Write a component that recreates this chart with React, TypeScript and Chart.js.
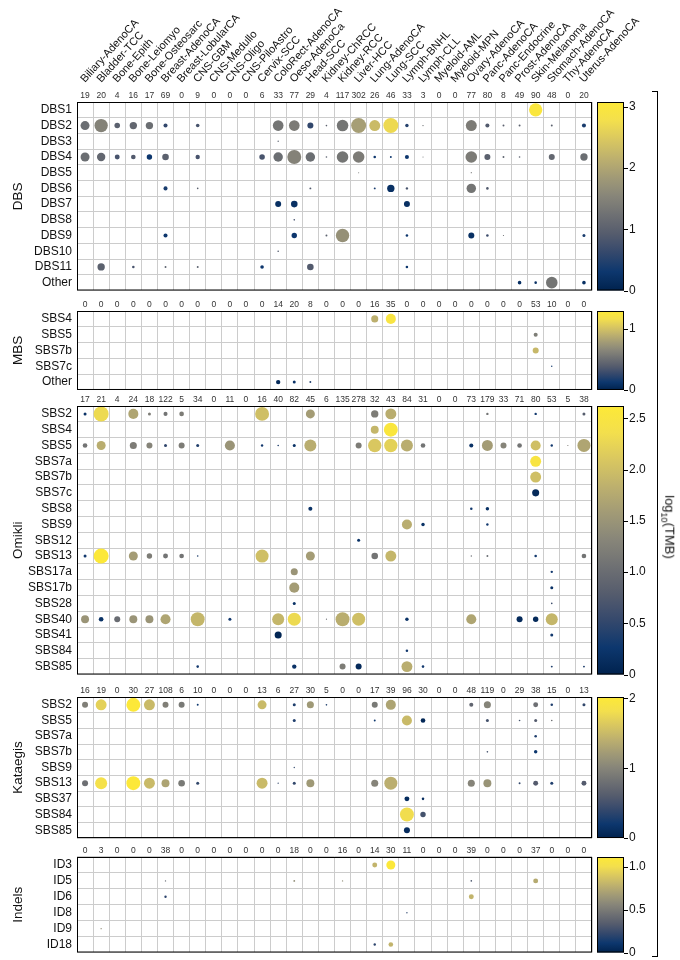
import React, { useEffect, useRef } from "react";
import { Chart, registerables } from "chart.js";
Chart.register(...registerables);
Chart.defaults.font.family = "'Liberation Sans', Arial, Helvetica, sans-serif";

// ---------------- DATA ----------------
const cancerTypes = [
  "Biliary-AdenoCA", "Bladder-TCC", "Bone-Epith", "Bone-Leiomyo", "Bone-Osteosarc",
  "Breast-AdenoCA", "Breast-LobularCA", "CNS-GBM", "CNS-Medullo", "CNS-Oligo",
  "CNS-PiloAstro", "Cervix-SCC", "ColoRect-AdenoCA", "Oeso-AdenoCa", "Head-SCC",
  "Kidney-ChRCC", "Kidney-RCC", "Liver-HCC", "Lung-AdenoCA", "Lung-SCC",
  "Lymph-BNHL", "Lymph-CLL", "Myeloid-AML", "Myeloid-MPN", "Ovary-AdenoCA",
  "Panc-AdenoCA", "Panc-Endocrine", "Prost-AdenoCA", "Skin-Melanoma", "Stomach-AdenoCA",
  "Thy-AdenoCA", "Uterus-AdenoCA",
];

// cell tuples: [signature, cancer type index, fraction of samples, log10(TMB)]
const dbsSignatures = ["DBS1", "DBS2", "DBS3", "DBS4", "DBS5", "DBS6", "DBS7", "DBS8", "DBS9", "DBS10", "DBS11", "Other"];
const dbsCounts = [19, 20, 4, 16, 17, 69, 0, 9, 0, 0, 0, 6, 33, 77, 29, 4, 117, 302, 26, 46, 33, 3, 0, 0, 77, 80, 8, 49, 90, 48, 0, 20];
const dbsCells = [
  ["DBS1", 28, 0.89, 3.0],
  ["DBS2", 0, 0.6, 1.2], ["DBS2", 1, 0.89, 1.5], ["DBS2", 2, 0.37, 1.0], ["DBS2", 3, 0.49, 1.1], ["DBS2", 4, 0.49, 1.2],
  ["DBS2", 5, 0.27, 0.6], ["DBS2", 7, 0.24, 0.8], ["DBS2", 12, 0.71, 1.3], ["DBS2", 13, 0.71, 1.4], ["DBS2", 14, 0.4, 0.6],
  ["DBS2", 15, 0.11, 1.0], ["DBS2", 16, 0.77, 1.3], ["DBS2", 17, 1.0, 1.9], ["DBS2", 18, 0.73, 2.3], ["DBS2", 19, 1.0, 2.7],
  ["DBS2", 20, 0.23, 0.5], ["DBS2", 21, 0.09, 1.2], ["DBS2", 24, 0.73, 1.4], ["DBS2", 25, 0.27, 0.9], ["DBS2", 26, 0.13, 1.0],
  ["DBS2", 27, 0.13, 1.0], ["DBS2", 29, 0.13, 1.0], ["DBS2", 31, 0.27, 0.4],
  ["DBS3", 12, 0.09, 1.0],
  ["DBS4", 0, 0.6, 1.2], ["DBS4", 1, 0.56, 1.1], ["DBS4", 2, 0.33, 0.8], ["DBS4", 3, 0.31, 0.9], ["DBS4", 4, 0.36, 0.3],
  ["DBS4", 5, 0.44, 1.0], ["DBS4", 7, 0.29, 0.8], ["DBS4", 11, 0.37, 0.8], ["DBS4", 12, 0.63, 1.2], ["DBS4", 13, 0.93, 1.5],
  ["DBS4", 14, 0.63, 1.2], ["DBS4", 15, 0.11, 1.0], ["DBS4", 16, 0.77, 1.3], ["DBS4", 17, 0.77, 1.4], ["DBS4", 18, 0.17, 0.3],
  ["DBS4", 19, 0.13, 0.3], ["DBS4", 20, 0.27, 0.3], ["DBS4", 21, 0.07, 1.2], ["DBS4", 24, 0.77, 1.4], ["DBS4", 25, 0.4, 1.0],
  ["DBS4", 26, 0.13, 1.0], ["DBS4", 27, 0.11, 1.0], ["DBS4", 29, 0.4, 1.1], ["DBS4", 31, 0.49, 1.2],
  ["DBS5", 17, 0.07, 1.3], ["DBS5", 24, 0.08, 1.3],
  ["DBS6", 5, 0.27, 0.4], ["DBS6", 7, 0.11, 1.0], ["DBS6", 14, 0.13, 0.9], ["DBS6", 18, 0.13, 0.4], ["DBS6", 19, 0.49, 0.2],
  ["DBS6", 20, 0.16, 0.8], ["DBS6", 24, 0.63, 1.3], ["DBS6", 25, 0.17, 0.9],
  ["DBS7", 12, 0.4, 0.2], ["DBS7", 13, 0.44, 0.2], ["DBS7", 20, 0.4, 0.2],
  ["DBS8", 13, 0.11, 0.8],
  ["DBS9", 5, 0.27, 0.3], ["DBS9", 13, 0.36, 0.3], ["DBS9", 15, 0.13, 1.0], ["DBS9", 16, 0.89, 1.7], ["DBS9", 20, 0.17, 0.3],
  ["DBS9", 24, 0.4, 0.2], ["DBS9", 25, 0.17, 0.7], ["DBS9", 26, 0.08, 1.2], ["DBS9", 31, 0.2, 0.4],
  ["DBS10", 12, 0.11, 0.9],
  ["DBS11", 1, 0.49, 1.0], ["DBS11", 3, 0.17, 0.8], ["DBS11", 5, 0.13, 1.0], ["DBS11", 7, 0.13, 1.0], ["DBS11", 11, 0.24, 0.3],
  ["DBS11", 14, 0.44, 0.9], ["DBS11", 20, 0.17, 0.3],
  ["Other", 27, 0.24, 0.2], ["Other", 28, 0.17, 0.2], ["Other", 29, 0.77, 1.3], ["Other", 31, 0.24, 0.2],
];
const dbsTickValues = [0, 1, 2, 3];
const dbsTickLabels = ["0", "1", "2", "3"];
const dbsMax = 3.08;

const mbsSignatures = ["SBS4", "SBS5", "SBS7b", "SBS7c", "Other"];
const mbsCounts = [0, 0, 0, 0, 0, 0, 0, 0, 0, 0, 0, 0, 14, 20, 8, 0, 0, 0, 16, 35, 0, 0, 0, 0, 0, 0, 0, 0, 53, 10, 0, 0];
const mbsCells = [
  ["SBS4", 18, 0.47, 0.9], ["SBS4", 19, 0.67, 1.22],
  ["SBS5", 28, 0.27, 0.6],
  ["SBS7b", 28, 0.4, 0.95],
  ["SBS7c", 29, 0.09, 0.1],
  ["Other", 12, 0.29, 0.05], ["Other", 13, 0.2, 0.1], ["Other", 14, 0.13, 0.2],
];
const mbsTickValues = [0, 1];
const mbsTickLabels = ["0", "1"];
const mbsMax = 1.29;

const omikliSignatures = ["SBS2", "SBS4", "SBS5", "SBS7a", "SBS7b", "SBS7c", "SBS8", "SBS9", "SBS12", "SBS13", "SBS17a", "SBS17b", "SBS28", "SBS40", "SBS41", "SBS84", "SBS85"];
const omikliCounts = [17, 21, 4, 24, 18, 122, 5, 34, 0, 11, 0, 16, 40, 82, 45, 6, 135, 278, 32, 43, 84, 31, 0, 0, 73, 179, 33, 71, 80, 53, 5, 38];
const omikliCells = [
  ["SBS2", 0, 0.2, 0.2], ["SBS2", 1, 1.0, 2.3], ["SBS2", 3, 0.67, 1.7], ["SBS2", 4, 0.2, 1.2], ["SBS2", 5, 0.27, 1.1],
  ["SBS2", 6, 0.31, 1.2], ["SBS2", 11, 0.93, 2.0], ["SBS2", 14, 0.6, 1.6], ["SBS2", 18, 0.49, 1.2], ["SBS2", 19, 0.73, 1.8],
  ["SBS2", 25, 0.16, 1.1], ["SBS2", 28, 0.16, 0.3], ["SBS2", 31, 0.2, 0.8],
  ["SBS4", 18, 0.53, 1.9], ["SBS4", 19, 0.93, 2.55],
  ["SBS5", 0, 0.31, 1.1], ["SBS5", 1, 0.6, 1.8], ["SBS5", 3, 0.47, 1.2], ["SBS5", 4, 0.4, 1.3], ["SBS5", 5, 0.2, 0.5],
  ["SBS5", 6, 0.4, 1.2], ["SBS5", 7, 0.2, 0.4], ["SBS5", 9, 0.67, 1.5], ["SBS5", 11, 0.16, 0.3], ["SBS5", 12, 0.11, 0.4],
  ["SBS5", 13, 0.2, 0.2], ["SBS5", 14, 0.8, 1.8], ["SBS5", 17, 0.4, 1.2], ["SBS5", 18, 0.89, 2.1], ["SBS5", 19, 0.89, 2.2],
  ["SBS5", 20, 0.8, 1.8], ["SBS5", 21, 0.31, 1.1], ["SBS5", 24, 0.27, 0.2], ["SBS5", 25, 0.73, 1.6], ["SBS5", 26, 0.4, 1.3],
  ["SBS5", 27, 0.31, 1.1], ["SBS5", 28, 0.67, 2.0], ["SBS5", 29, 0.16, 0.3], ["SBS5", 30, 0.08, 1.2], ["SBS5", 31, 0.87, 1.7],
  ["SBS7a", 28, 0.73, 2.5],
  ["SBS7b", 28, 0.73, 2.0],
  ["SBS7c", 28, 0.47, 0.1],
  ["SBS8", 14, 0.27, 0.2], ["SBS8", 24, 0.17, 0.3], ["SBS8", 25, 0.23, 0.2],
  ["SBS9", 20, 0.67, 1.8], ["SBS9", 21, 0.23, 0.2], ["SBS9", 25, 0.16, 0.3],
  ["SBS12", 17, 0.2, 0.2],
  ["SBS13", 0, 0.2, 0.3], ["SBS13", 1, 1.0, 2.6], ["SBS13", 3, 0.6, 1.6], ["SBS13", 4, 0.36, 1.2], ["SBS13", 5, 0.33, 1.1],
  ["SBS13", 6, 0.31, 1.1], ["SBS13", 7, 0.11, 0.4], ["SBS13", 11, 0.87, 2.0], ["SBS13", 14, 0.6, 1.6], ["SBS13", 18, 0.44, 1.1],
  ["SBS13", 19, 0.73, 1.9], ["SBS13", 24, 0.09, 1.0], ["SBS13", 25, 0.13, 1.0], ["SBS13", 28, 0.17, 0.3], ["SBS13", 31, 0.31, 1.1],
  ["SBS17a", 13, 0.47, 1.5], ["SBS17a", 29, 0.16, 0.3],
  ["SBS17b", 13, 0.67, 1.6], ["SBS17b", 29, 0.2, 0.2],
  ["SBS28", 13, 0.2, 0.2], ["SBS28", 29, 0.11, 0.6],
  ["SBS40", 0, 0.53, 1.5], ["SBS40", 1, 0.31, 0.2], ["SBS40", 2, 0.4, 1.0], ["SBS40", 3, 0.53, 1.5], ["SBS40", 4, 0.53, 1.5],
  ["SBS40", 5, 0.67, 1.7], ["SBS40", 7, 0.93, 1.9], ["SBS40", 9, 0.2, 0.3], ["SBS40", 12, 0.8, 1.9], ["SBS40", 13, 0.87, 2.3],
  ["SBS40", 15, 0.08, 1.0], ["SBS40", 16, 0.93, 1.8], ["SBS40", 17, 0.87, 2.0], ["SBS40", 20, 0.23, 0.2], ["SBS40", 24, 0.67, 1.7],
  ["SBS40", 27, 0.4, 0.1], ["SBS40", 28, 0.36, 0.1], ["SBS40", 29, 0.8, 1.9],
  ["SBS41", 12, 0.47, 0.05], ["SBS41", 29, 0.2, 0.3],
  ["SBS84", 20, 0.17, 0.3],
  ["SBS85", 7, 0.17, 0.3], ["SBS85", 13, 0.29, 0.2], ["SBS85", 16, 0.4, 1.2], ["SBS85", 17, 0.4, 0.1], ["SBS85", 20, 0.73, 1.8],
  ["SBS85", 21, 0.17, 0.3], ["SBS85", 29, 0.13, 0.4], ["SBS85", 31, 0.13, 0.4],
];
const omikliTickValues = [0, 0.5, 1, 1.5, 2, 2.5];
const omikliTickLabels = ["0", "0.5", "1.0", "1.5", "2.0", "2.5"];
const omikliMax = 2.62;

const kataegisSignatures = ["SBS2", "SBS5", "SBS7a", "SBS7b", "SBS9", "SBS13", "SBS37", "SBS84", "SBS85"];
const kataegisCounts = [16, 19, 0, 30, 27, 108, 6, 10, 0, 0, 0, 13, 6, 27, 30, 5, 0, 0, 17, 39, 96, 30, 0, 0, 48, 119, 0, 29, 38, 15, 0, 13];
const kataegisCells = [
  ["SBS2", 0, 0.4, 0.95], ["SBS2", 1, 0.73, 1.7], ["SBS2", 3, 0.93, 2.0], ["SBS2", 4, 0.73, 1.5], ["SBS2", 5, 0.4, 0.95],
  ["SBS2", 6, 0.4, 0.9], ["SBS2", 7, 0.13, 0.2], ["SBS2", 11, 0.6, 1.5], ["SBS2", 13, 0.2, 0.3], ["SBS2", 14, 0.47, 1.2],
  ["SBS2", 15, 0.11, 0.3], ["SBS2", 18, 0.4, 0.9], ["SBS2", 19, 0.67, 1.3], ["SBS2", 24, 0.27, 0.7], ["SBS2", 25, 0.47, 1.0],
  ["SBS2", 28, 0.33, 0.8], ["SBS2", 29, 0.17, 0.3], ["SBS2", 31, 0.2, 0.4],
  ["SBS5", 13, 0.2, 0.3], ["SBS5", 18, 0.13, 0.2], ["SBS5", 20, 0.67, 1.5], ["SBS5", 21, 0.31, 0.05], ["SBS5", 25, 0.2, 0.5],
  ["SBS5", 27, 0.11, 0.5], ["SBS5", 28, 0.2, 0.6], ["SBS5", 29, 0.11, 0.8],
  ["SBS7a", 28, 0.17, 0.3],
  ["SBS7b", 25, 0.11, 0.5], ["SBS7b", 28, 0.23, 0.2],
  ["SBS9", 13, 0.09, 0.4],
  ["SBS13", 0, 0.4, 0.8], ["SBS13", 1, 0.8, 1.85], ["SBS13", 3, 0.93, 2.0], ["SBS13", 4, 0.73, 1.5], ["SBS13", 5, 0.53, 1.3],
  ["SBS13", 6, 0.44, 0.9], ["SBS13", 7, 0.2, 0.4], ["SBS13", 11, 0.73, 1.5], ["SBS13", 12, 0.09, 0.4], ["SBS13", 13, 0.2, 0.4],
  ["SBS13", 14, 0.53, 1.2], ["SBS13", 18, 0.47, 1.0], ["SBS13", 19, 0.87, 1.4], ["SBS13", 24, 0.47, 1.0], ["SBS13", 25, 0.53, 1.15],
  ["SBS13", 27, 0.13, 0.4], ["SBS13", 28, 0.33, 0.6], ["SBS13", 29, 0.2, 0.3], ["SBS13", 31, 0.33, 0.6],
  ["SBS37", 20, 0.33, 0.1], ["SBS37", 21, 0.17, 0.1],
  ["SBS84", 20, 0.93, 1.8], ["SBS84", 21, 0.36, 0.5],
  ["SBS85", 20, 0.4, 0.1],
];
const kataegisTickValues = [0, 1, 2];
const kataegisTickLabels = ["0", "1", "2"];
const kataegisMax = 2.02;

const indelSignatures = ["ID3", "ID5", "ID6", "ID8", "ID9", "ID18"];
const indelCounts = [0, 3, 0, 0, 0, 38, 0, 0, 0, 0, 0, 0, 0, 18, 0, 0, 16, 0, 14, 30, 11, 0, 0, 0, 39, 0, 0, 0, 37, 0, 0, 0];
const indelCells = [
  ["ID3", 18, 0.33, 0.8], ["ID3", 19, 0.6, 1.1],
  ["ID5", 5, 0.09, 0.4], ["ID5", 13, 0.12, 0.6], ["ID5", 16, 0.09, 0.6], ["ID5", 24, 0.11, 0.3], ["ID5", 28, 0.33, 0.75],
  ["ID6", 5, 0.16, 0.2], ["ID6", 24, 0.33, 0.8],
  ["ID8", 20, 0.09, 0.2],
  ["ID9", 1, 0.09, 0.6],
  ["ID18", 18, 0.16, 0.2], ["ID18", 19, 0.31, 0.8],
];
const indelTickValues = [0, 0.5, 1];
const indelTickLabels = ["0", "0.5", "1.0"];
const indelMax = 1.115;

// ---------------- STYLE / LAYOUT ----------------
const FONT = "'Liberation Sans', Arial, Helvetica, sans-serif";
const W = 680;
const PLOT_LEFT = 77;
const PLOT_RIGHT = 592;
const ROW_H = 16;
const MAX_R = 7.5;
const GRID = "#cccccc";
const NAME_ANGLE = 48;

const CIVIDIS = [
  [0, 34, 78], [13, 55, 110], [52, 72, 108], [85, 92, 109], [110, 112, 115], [135, 133, 121],
  [161, 154, 118], [189, 176, 110], [217, 199, 96], [243, 223, 77], [253, 233, 55],
];
function cividis(t: number) {
  const c = Math.max(0, Math.min(1, t)) * 10;
  const i = Math.min(9, Math.floor(c));
  const f = c - i;
  const a = CIVIDIS[i], b = CIVIDIS[i + 1];
  const m = (k: number) => Math.round(a[k] + (b[k] - a[k]) * f);
  return `rgb(${m(0)},${m(1)},${m(2)})`;
}

const panels = [
  { title: "DBS", rows: dbsSignatures, counts: dbsCounts, cells: dbsCells, vmax: dbsMax, ticks: dbsTickValues, tickLabels: dbsTickLabels, plotTop: 102, names: true },
  { title: "MBS", rows: mbsSignatures, counts: mbsCounts, cells: mbsCells, vmax: mbsMax, ticks: mbsTickValues, tickLabels: mbsTickLabels, plotTop: 311, names: false },
  { title: "Omikli", rows: omikliSignatures, counts: omikliCounts, cells: omikliCells, vmax: omikliMax, ticks: omikliTickValues, tickLabels: omikliTickLabels, plotTop: 406, names: false },
  { title: "Kataegis", rows: kataegisSignatures, counts: kataegisCounts, cells: kataegisCells, vmax: kataegisMax, ticks: kataegisTickValues, tickLabels: kataegisTickLabels, plotTop: 697, names: false },
  { title: "Indels", rows: indelSignatures, counts: indelCounts, cells: indelCells, vmax: indelMax, ticks: indelTickValues, tickLabels: indelTickLabels, plotTop: 857, names: false },
];

const COUNT_H = 14;

function noPad(s: any) {
  s.paddingTop = 0;
  s.paddingBottom = 0;
  s.paddingLeft = 0;
  s.paddingRight = 0;
}

const framePlugin = {
  id: "frame",
  afterDraw(chart: any) {
    const { ctx, chartArea } = chart;
    const cb = chart.scales.cb;
    const opts = chart.options.plugins.frame;
    ctx.save();
    ctx.strokeStyle = "#000";
    ctx.lineWidth = 1;
    ctx.strokeRect(chartArea.left + 0.5, chartArea.top + 0.5, chartArea.right - chartArea.left - 1, chartArea.bottom - chartArea.top - 1);
    // colorbar
    const x0 = chartArea.right + 5;
    const w = 27;
    const yb = cb.getPixelForValue(0);
    const yt = cb.getPixelForValue(opts.vmax);
    const g = ctx.createLinearGradient(0, yb, 0, yt);
    for (let i = 0; i <= 20; i++) g.addColorStop(i / 20, cividis(i / 20));
    ctx.fillStyle = g;
    ctx.fillRect(x0, yt, w, yb - yt);
    ctx.strokeRect(x0 + 0.5, yt + 0.5, w - 1, yb - yt - 1);
    cb.ticks.forEach((t: any) => {
      const y = Math.round(cb.getPixelForValue(t.value)) + 0.5;
      ctx.beginPath();
      ctx.moveTo(x0 + w, y);
      ctx.lineTo(x0 + w + 4, y);
      ctx.stroke();
    });
    // rotated cancer-type names, placed on the names axis ticks
    const names = chart.scales.names;
    if (names) {
      ctx.fillStyle = "#111";
      ctx.font = `11px ${FONT}`;
      ctx.textAlign = "left";
      ctx.textBaseline = "alphabetic";
      names.ticks.forEach((_t: any, i: number) => {
        const x = names.getPixelForTick(i);
        ctx.save();
        ctx.translate(x, names.bottom - 5);
        ctx.rotate((-NAME_ANGLE * Math.PI) / 180);
        ctx.fillText(names.getLabelForValue(i), 0, 0);
        ctx.restore();
      });
    }
    ctx.restore();
  },
};

function Panel({ p }: { p: any }) {
  const ref = useRef<HTMLCanvasElement>(null);
  const headerH = p.names ? p.plotTop : COUNT_H;
  const canvasTop = p.plotTop - headerH;
  const H = headerH + p.rows.length * ROW_H + 4;
  useEffect(() => {
    const scales: any = {
      x: {
        type: "category",
        labels: cancerTypes,
        position: "top",
        offset: true,
        weight: 0,
        grid: { offset: true, color: GRID, lineWidth: 1, drawTicks: false },
        border: { display: false },
        ticks: {
          autoSkip: false, minRotation: 0, maxRotation: 0, padding: 1,
          font: { size: 8.5, family: FONT }, color: "#333",
          callback: (_v: any, i: number) => String(p.counts[i]),
        },
        afterFit: (s: any) => { s.height = COUNT_H; noPad(s); },
      },
      y: {
        type: "category",
        labels: p.rows,
        position: "left",
        offset: true,
        grid: { offset: true, color: GRID, lineWidth: 1, drawTicks: false },
        border: { display: false },
        ticks: { autoSkip: false, padding: 5, font: { size: 12, family: FONT }, color: "#111" },
        title: { display: true, text: p.title, font: { size: 13.5, family: FONT }, color: "#111", padding: { top: 10, bottom: 0 } },
        afterFit: (s: any) => { s.width = PLOT_LEFT; noPad(s); },
      },
      cb: {
        type: "linear",
        position: "right",
        min: 0,
        max: p.vmax,
        grid: { display: false, drawTicks: false },
        border: { display: false },
        afterBuildTicks: (s: any) => { s.ticks = p.ticks.map((v: number) => ({ value: v })); },
        ticks: {
          padding: 37, font: { size: 12, family: FONT }, color: "#111",
          callback: (_v: any, i: number) => p.tickLabels[i],
        },
        afterFit: (s: any) => { s.width = W - PLOT_RIGHT; noPad(s); },
      },
    };
    if (p.names) {
      scales.names = {
        type: "category",
        labels: cancerTypes,
        position: "top",
        offset: true,
        weight: 1,
        grid: { display: false, drawTicks: false },
        border: { display: false },
        ticks: { display: false, autoSkip: false },
        afterFit: (s: any) => { s.height = p.plotTop - COUNT_H; noPad(s); },
      };
    }
    const chart = new Chart(ref.current as HTMLCanvasElement, {
      type: "bubble",
      data: {
        datasets: [{
          data: p.cells.map((c: any) => ({ x: cancerTypes[c[1]], y: c[0], r: MAX_R * c[2], v: c[3] })),
          backgroundColor: (ctx: any) => cividis((ctx.raw ? ctx.raw.v : 0) / p.vmax),
          borderWidth: 0,
          hoverBorderWidth: 0,
          hoverRadius: 0,
          clip: false,
        }],
      } as any,
      options: {
        responsive: false,
        animation: false,
        devicePixelRatio: 1,
        events: [],
        layout: { padding: { top: 0, bottom: 4, left: 0, right: 0 } },
        plugins: { legend: { display: false }, tooltip: { enabled: false }, frame: { vmax: p.vmax } } as any,
        scales,
      },
      plugins: [framePlugin],
    });
    return () => chart.destroy();
  }, []);
  return (
    <div style={{ position: "absolute", left: 0, top: canvasTop, width: W, height: H }}>
      <canvas ref={ref} width={W} height={H} style={{ width: W, height: H, display: "block" }} />
    </div>
  );
}

export default function App() {
  return (
    <div style={{ position: "absolute", left: 0, top: 0, width: W, height: 960, background: "#fff", fontFamily: FONT, overflow: "hidden" }}>
      {panels.map((p) => <Panel key={p.title} p={p} />)}
      <div style={{ position: "absolute", left: 652, top: 91, width: 5, height: 864, borderTop: "1.3px solid #000", borderRight: "1.3px solid #000", borderBottom: "1.3px solid #000" }} />
      <div style={{ position: "absolute", left: 668, top: 527, transform: "translate(-50%, -50%) rotate(90deg)", whiteSpace: "nowrap", fontSize: 13, color: "#111", lineHeight: 1 }}>
        log<sub style={{ fontSize: 9 }}>10</sub>(TMB)
      </div>
    </div>
  );
}
